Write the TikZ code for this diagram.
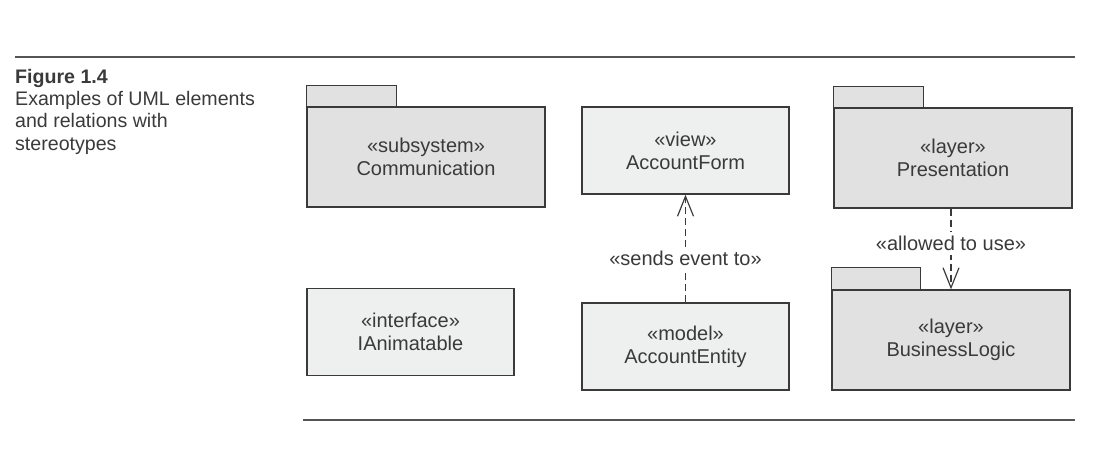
\documentclass[tikz,border=0pt]{standalone}
\usepackage{fontspec}
\setmainfont{Liberation Sans}
\usetikzlibrary{arrows.meta}
\definecolor{ink}{HTML}{3A3A3A}
\definecolor{rulegray}{HTML}{555555}
\definecolor{pkgfill}{HTML}{E1E1E1}
\definecolor{clsfill}{HTML}{EEEFEF}

\begin{document}
\begin{tikzpicture}[x=1pt, y=1pt,
  every node/.style={text=ink, font=\fontsize{20}{23}\selectfont},
  package/.style={draw=ink, fill=pkgfill, line width=1.3pt,
    minimum width=238pt, minimum height=100pt, align=center},
  classbox/.style={draw=ink, fill=clsfill, line width=1.3pt,
    minimum width=207pt, minimum height=87pt, align=center},
  pkgtab/.style={draw=ink, fill=pkgfill, line width=1.3pt},
  dep/.style={draw=ink, line width=1.2pt, dash pattern=on 7pt off 4pt,
    -{Straight Barb[length=20pt,width=16pt]}},
  lbl/.style={fill=white, inner xsep=2pt, inner ysep=4pt},
  caption/.style={font=\fontsize{19.6}{22.3}\selectfont, align=left, inner sep=0pt}]

  \useasboundingbox (0,0) rectangle (1104,457);

  % Linien oben und unten
  \draw[rulegray, line width=1.3pt] (15,400) -- (1075,400);
  \draw[rulegray, line width=1.3pt] (303,37) -- (1075,37);

  \node[caption, anchor=north west] (cap) at (15,388)
    {\textbf{Figure 1.4}\\Examples of UML elements\\and relations with\\stereotypes};

  \node[package] (comm) at (426,300) {«subsystem»\\Communication};
  \draw[pkgtab] (comm.north west) rectangle ++(90,21);

  \node[classbox] (form) at (685.5,306.5) {«view»\\AccountForm};

  \node[package] (pres) at (953,299) {«layer»\\Presentation};
  \draw[pkgtab] (pres.north west) rectangle ++(90,21);

  \node[classbox] (anim) at (410.5,125) {«interface»\\IAnimatable};
  \node[classbox] (entity) at (685.5,110.5) {«model»\\AccountEntity};

  \node[package] (logic) at (951,117) {«layer»\\BusinessLogic};
  \draw[pkgtab] (logic.north west) rectangle ++(89,22);

  % Abhaengigkeiten
  \draw[dep] (entity.north) -- node[lbl, pos=0.41] {«sends event to»} (form.south);
  \draw[dep] (logic.north |- pres.south) -- node[lbl, pos=0.43] {«allowed to use»} (logic.north);
\end{tikzpicture}
\end{document}
